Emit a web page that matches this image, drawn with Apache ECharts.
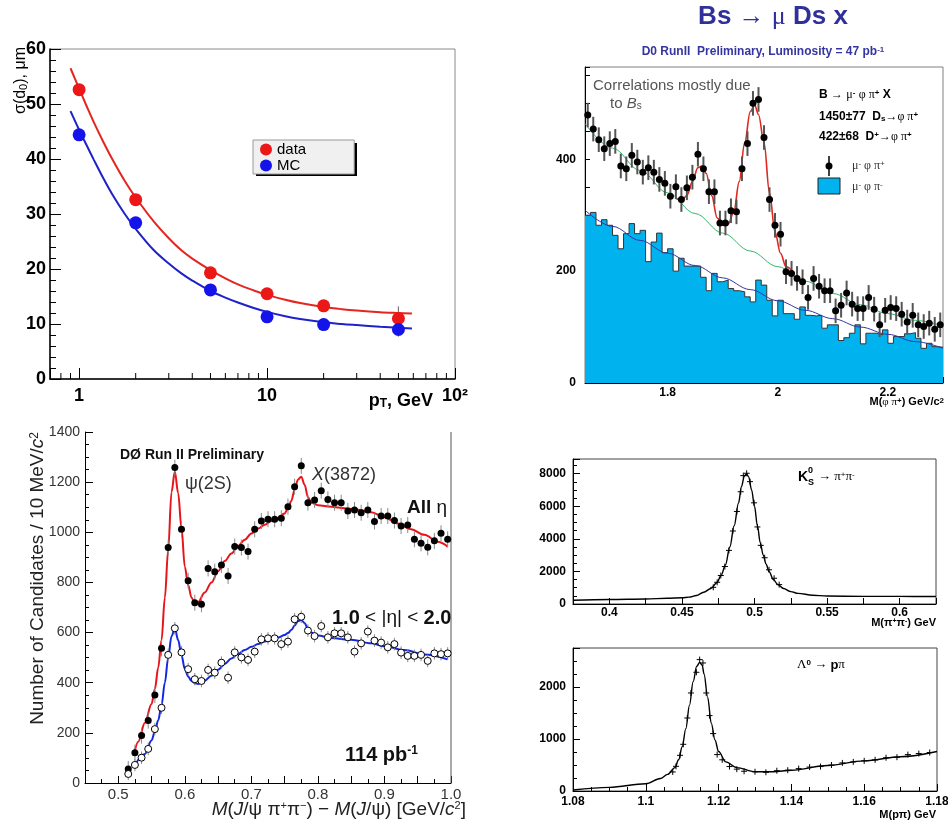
<!DOCTYPE html>
<html><head><meta charset="utf-8">
<script src="https://cdn.jsdelivr.net/npm/echarts@6/dist/echarts.min.js"></script>
<style>html,body{margin:0;padding:0;background:#fff}#c{width:948px;height:829px}</style>
</head><body><div id="c"></div>
<script>
// ===== Panel 1: sigma(d0) vs pT =====
const P1_X = [1, 2, 5, 10, 20, 50];
const P1_DATA = [52.6, 32.6, 19.3, 15.5, 13.3, 11.0];
const P1_MC = [44.4, 28.4, 16.2, 11.3, 9.9, 9.0];
const P1_DATA_ERR = [0, 0, 0, 0, 0, 2.2];
const P1_MC_ERR = [0, 0, 0, 0, 0, 1.3];
const P1_FIT_X = [0.9, 1, 1.1, 1.2, 1.35, 1.5, 1.75, 2, 2.5, 3, 3.5, 4, 5, 6, 7, 8.5, 10, 12.5, 15, 20, 25, 30, 40, 50, 59];
const P1_FIT_DATA = [56.5, 52.8, 49.5, 46.6, 43.0, 40.0, 36.0, 33.0, 28.6, 25.6, 23.4, 21.9, 19.8, 18.3, 17.2, 16.1, 15.3, 14.4, 13.8, 13.1, 12.7, 12.45, 12.15, 12.0, 11.9];
const P1_FIT_MC = [48.7, 45.3, 42.4, 39.8, 36.4, 33.6, 30.0, 27.3, 23.4, 21.0, 19.2, 17.9, 16.0, 14.8, 13.9, 12.9, 12.2, 11.4, 10.9, 10.3, 10.0, 9.8, 9.5, 9.3, 9.2];
const P1_MINOR_TICKS = [0.8, 0.9, 2, 3, 4, 5, 6, 7, 8, 9, 20, 30, 40, 50, 60, 70, 80, 90];

// ===== Panel 2: Bs -> mu Ds X =====
const P2_HIST = [300, 305, 282, 292, 282, 264, 240, 267, 285, 267, 273, 217, 252, 268, 233, 240, 200, 223, 209, 209, 209, 189, 165, 196, 181, 184, 169, 165, 163, 154, 145, 184, 175, 148, 120, 148, 124, 124, 114, 136, 121, 120, 121, 98, 104, 104, 76, 81, 89, 104, 70, 89, 89, 86, 95, 71, 83, 83, 88, 90, 80, 62, 71, 65, 64];
const P2_PTS = [479, 454, 435, 419, 428, 432, 388, 383, 407, 395, 377, 385, 377, 364, 357, 334, 351, 328, 349, 368, 409, 383, 342, 342, 286, 286, 308, 306, 383, 428, 500, 507, 439, 328, 282, 266, 199, 196, 187, 181, 153, 187, 173, 165, 165, 129, 139, 161, 141, 133, 133, 153, 132, 104, 130, 135, 133, 123, 109, 121, 104, 101, 107, 96, 104];
const P2_BIN_START = 1.65, P2_BIN_W = 0.01, P2_PT_ERR = 22;
const P2_BLUE_X = [1.65, 1.7, 1.75, 1.8, 1.85, 1.9, 1.95, 2.0, 2.05, 2.1, 2.15, 2.2, 2.25, 2.30];
const P2_BLUE_Y = [309, 280, 255, 232, 210, 188, 167, 147, 130, 115, 100, 87, 74, 62];
const P2_GREEN_X = [1.65, 1.7, 1.75, 1.8, 1.85, 1.9, 1.95, 2.0, 2.05, 2.1, 2.15, 2.2, 2.25, 2.30];
const P2_GREEN_Y = [464, 420, 380, 340, 303, 268, 236, 208, 182, 160, 140, 124, 112, 102];
const P2_FIT_X = [1.815, 1.825, 1.835, 1.845, 1.855, 1.862, 1.87, 1.88, 1.89, 1.9, 1.91, 1.92, 1.93, 1.94, 1.95, 1.958, 1.965, 1.975, 1.985, 1.995, 2.005, 2.015, 2.03];
const P2_FIT_Y = [330, 326, 335, 360, 385, 388, 375, 335, 295, 282, 284, 305, 360, 430, 485, 497, 480, 430, 340, 270, 232, 208, 196];

// ===== Panel 3: X(3872) =====
const P3_START = 0.515, P3_BIN_W = 0.01;
const P3_ALL = [56, 121, 189, 249, 351, 537, 939, 1258, 1012, 807, 719, 713, 856, 843, 870, 826, 943, 939, 923, 1012, 1045, 1052, 1052, 1056, 1102, 1182, 1265, 1118, 1129, 1166, 1131, 1118, 1118, 1085, 1089, 1078, 1089, 1043, 1065, 1065, 1047, 1025, 1029, 972, 956, 940, 966, 996, 972];
const P3_FWD = [36, 72, 101, 136, 215, 300, 511, 617, 521, 454, 414, 407, 451, 440, 480, 420, 521, 501, 491, 524, 573, 577, 577, 554, 564, 653, 663, 608, 586, 626, 581, 597, 597, 581, 524, 557, 604, 568, 560, 541, 554, 520, 507, 507, 511, 487, 517, 514, 517];
const P3_ALL_ERR = 32, P3_FWD_ERR = 25;
const P3_FIT_ALL_X = [0.524, 0.53, 0.54, 0.55, 0.555, 0.56, 0.565, 0.57, 0.575, 0.58, 0.585, 0.59, 0.595, 0.6, 0.605, 0.61, 0.615, 0.62, 0.63, 0.64, 0.65, 0.66, 0.67, 0.68, 0.69, 0.7, 0.71, 0.72, 0.73, 0.74, 0.75, 0.755, 0.76, 0.765, 0.77, 0.775, 0.78, 0.785, 0.79, 0.8, 0.82, 0.84, 0.86, 0.88, 0.9, 0.92, 0.94, 0.96, 0.98, 0.995];
const P3_FIT_ALL_Y = [118, 165, 240, 315, 375, 460, 570, 740, 930, 1160, 1242, 1156, 1016, 863, 790, 740, 716, 722, 760, 800, 845, 885, 915, 945, 970, 995, 1015, 1030, 1045, 1058, 1075, 1095, 1125, 1170, 1210, 1222, 1190, 1140, 1118, 1108, 1102, 1096, 1090, 1080, 1060, 1035, 1012, 990, 962, 943];
const P3_FIT_FWD_X = [0.525, 0.54, 0.55, 0.555, 0.56, 0.565, 0.57, 0.575, 0.58, 0.585, 0.59, 0.595, 0.6, 0.605, 0.61, 0.615, 0.62, 0.63, 0.64, 0.65, 0.66, 0.67, 0.68, 0.69, 0.7, 0.71, 0.72, 0.73, 0.74, 0.75, 0.755, 0.76, 0.765, 0.77, 0.775, 0.78, 0.785, 0.79, 0.8, 0.82, 0.85, 0.88, 0.9, 0.93, 0.96, 0.995];
const P3_FIT_FWD_Y = [72, 116, 170, 205, 250, 310, 400, 500, 585, 617, 570, 510, 455, 425, 407, 398, 395, 408, 428, 452, 475, 497, 515, 530, 543, 554, 564, 572, 580, 590, 598, 610, 628, 645, 650, 638, 615, 600, 588, 578, 571, 557, 545, 530, 513, 493];

// ===== Panel 4: K0s =====
const P4_FIT_X = [0.375, 0.4, 0.425, 0.44, 0.45, 0.455, 0.46, 0.465, 0.47, 0.474, 0.477, 0.48, 0.483, 0.486, 0.489, 0.491, 0.493, 0.4945, 0.496, 0.498, 0.5, 0.502, 0.504, 0.506, 0.508, 0.51, 0.513, 0.516, 0.52, 0.525, 0.53, 0.54, 0.55, 0.575, 0.6, 0.625];
const P4_FIT_Y = [230, 280, 310, 350, 380, 420, 520, 720, 950, 1300, 1750, 2400, 3500, 4800, 6200, 7200, 7850, 8000, 7800, 7000, 6000, 4800, 3750, 3000, 2450, 2000, 1500, 1200, 950, 760, 650, 540, 490, 470, 465, 460];
const P4_PX = [0.4716, 0.4743, 0.4768, 0.4796, 0.4824, 0.4851, 0.4879, 0.4905, 0.4923, 0.4946, 0.4969, 0.4997, 0.502, 0.5043, 0.507, 0.51, 0.5135, 0.517];
const P4_PY = [1025, 1335, 1747, 2300, 3290, 4480, 5680, 6890, 7880, 8025, 7510, 6210, 4730, 3600, 2840, 2100, 1580, 1190];

// ===== Panel 5: Lambda0 =====
const P5_FIT_X = [1.08, 1.09, 1.1, 1.104, 1.106, 1.108, 1.109, 1.11, 1.111, 1.112, 1.113, 1.114, 1.1148, 1.1155, 1.116, 1.117, 1.118, 1.119, 1.12, 1.122, 1.125, 1.13, 1.135, 1.14, 1.15, 1.16, 1.17, 1.18];
const P5_FIT_Y = [20, 70, 140, 240, 320, 450, 600, 850, 1200, 1650, 2100, 2400, 2470, 2420, 2250, 1800, 1300, 980, 760, 560, 450, 370, 370, 400, 490, 580, 660, 760];
const P5_PX = [1.1074, 1.1083, 1.1094, 1.1103, 1.1114, 1.1124, 1.1139, 1.1148, 1.1157, 1.1166, 1.1175, 1.1185, 1.1196, 1.121, 1.123, 1.125, 1.127, 1.13, 1.133, 1.136, 1.139, 1.142, 1.145, 1.148, 1.151, 1.154, 1.157, 1.16, 1.163, 1.166, 1.169, 1.172, 1.175, 1.178];
const P5_PY = [366, 475, 686, 898, 1404, 1885, 2283, 2527, 2462, 1885, 1450, 1104, 700, 600, 470, 420, 380, 370, 360, 390, 400, 430, 460, 470, 500, 540, 560, 580, 600, 640, 650, 700, 720, 740];

// ===== helpers =====
const SANS = '"Liberation Sans", Arial, Helvetica, sans-serif';
const SERIF = '"Liberation Serif", "Times New Roman", serif';
const pairs = (xs, ys) => xs.map((x, i) => [x, ys[i]]);
const labelAt = (vals, fmt) => v => { for (const t of vals) if (Math.abs(v - t) < 1e-7) return fmt ? fmt(t) : String(t); return ''; };
function errBars(xi, yi, xs, ys, err, color, width) {
  return { type: 'custom', xAxisIndex: xi, yAxisIndex: yi, silent: true, z: 3,
    data: xs.map((x, i) => { const e = Array.isArray(err) ? err[i] : err; return [x, ys[i] - e, ys[i] + e]; }),
    encode: { x: 0, y: [1, 2] },
    renderItem: (p, api) => {
      const a = api.coord([api.value(0), api.value(1)]), b = api.coord([api.value(0), api.value(2)]);
      return { type: 'line', shape: { x1: a[0], y1: a[1], x2: b[0], y2: b[1] }, style: { stroke: color, lineWidth: width } };
    } };
}
function plusMarks(xi, yi, xs, ys, s) {
  return { type: 'custom', xAxisIndex: xi, yAxisIndex: yi, silent: true, z: 4,
    data: pairs(xs, ys),
    renderItem: (p, api) => {
      const c = api.coord([api.value(0), api.value(1)]);
      return { type: 'group', children: [
        { type: 'line', shape: { x1: c[0] - s, y1: c[1], x2: c[0] + s, y2: c[1] }, style: { stroke: '#000', lineWidth: 1 } },
        { type: 'line', shape: { x1: c[0], y1: c[1] - s, x2: c[0], y2: c[1] + s }, style: { stroke: '#000', lineWidth: 1 } }] };
    } };
}
function fitLine(xi, yi, xs, ys, color, w, mono) {
  const s = { type: 'line', xAxisIndex: xi, yAxisIndex: yi, data: pairs(xs, ys), smooth: 0.35,
    showSymbol: false, silent: true, lineStyle: { color: color, width: w }, z: 2 };
  if (mono !== false) s.smoothMonotone = 'x';
  return s;
}
function txt(x, y, text, o) {
  o = o || {};
  return { type: 'text', x: x, y: y, rotation: o.rot || 0, z: 50,
    style: { text: text, fill: o.fill || '#000',
      font: (o.style || 'normal') + ' ' + (o.weight || 'normal') + ' ' + (o.size || 12) + 'px ' + (o.family || SANS),
      align: o.align || 'left', verticalAlign: o.va || 'middle', textAlign: o.align || 'left', textVerticalAlign: o.va || 'middle',
      rich: o.rich || {} } };
}
const axLine = { show: true, lineStyle: { color: '#000', width: 1 } };
const noSplit = { show: false };
const plain = v => String(v);

const gridBase = { containLabel: false, outerBoundsMode: 'none', backgroundColor: 'transparent' };

const option = {
  animation: false,
  backgroundColor: '#fff',
  textStyle: { fontFamily: SANS },
  grid: [
    Object.assign({ left: 50, top: 49, width: 405, height: 330, show: true, borderColor: '#8a8a8a', borderWidth: 1 }, gridBase),
    Object.assign({ left: 585, top: 67, width: 358, height: 316, show: true, borderColor: '#808080', borderWidth: 1 }, gridBase),
    Object.assign({ left: 85, top: 432, width: 366, height: 351, show: false }, gridBase),
    Object.assign({ left: 573, top: 459, width: 363, height: 145, show: true, borderColor: '#444', borderWidth: 1 }, gridBase),
    Object.assign({ left: 573, top: 648, width: 364, height: 143, show: true, borderColor: '#444', borderWidth: 1 }, gridBase)
  ],
  legend: {
    data: ['data', 'MC'], left: 253, top: 140, orient: 'vertical', selectedMode: false,
    backgroundColor: '#f0f0f0', borderColor: '#999', borderWidth: 1, borderRadius: 0,
    padding: [2, 48, 1, 7], itemGap: 1, itemWidth: 12, itemHeight: 12, icon: 'circle', z: 10,
    textStyle: { fontSize: 15, fontFamily: SANS, color: '#000', lineHeight: 15 }
  },
  xAxis: [
    { type: 'log', logBase: 10, gridIndex: 0, min: 0.7, max: 100, axisLine: { show: true, lineStyle: { color: '#000', width: 1.5 } },
      axisTick: { inside: true, length: 11, lineStyle: { color: '#000' } }, splitLine: noSplit,
      axisLabel: { margin: 8, fontSize: 18, fontWeight: 'bold', color: '#000',
        formatter: v => { const l = Math.log10(v); if (Math.abs(l) < 1e-6) return '1'; if (Math.abs(l - 1) < 1e-6) return '10'; if (Math.abs(l - 2) < 1e-6) return '10²'; return ''; } } },
    { type: 'value', gridIndex: 1, min: 1.65, max: 2.30, interval: 0.05, axisLine: axLine, splitLine: noSplit,
      axisTick: { inside: true, length: 6, lineStyle: { color: '#000' } },
      axisLabel: { margin: 4, fontSize: 12, fontWeight: 'bold', color: '#000', formatter: labelAt([1.8, 2, 2.2]) } },
    { type: 'value', gridIndex: 2, min: 0.45, max: 1.0, interval: 0.05, axisLine: axLine, splitLine: noSplit,
      axisTick: { inside: true, length: 7, lineStyle: { color: '#000' } },
      minorTick: { show: true, splitNumber: 2, length: 4, lineStyle: { color: '#000' } },
      axisLabel: { margin: 4, fontSize: 15, color: '#333', formatter: labelAt([0.5, 0.6, 0.7, 0.8, 0.9, 1.0], t => t.toFixed(1)) } },
    { type: 'value', gridIndex: 3, min: 0.375, max: 0.625, interval: 0.025, axisLine: axLine, splitLine: noSplit,
      axisTick: { inside: true, length: 6, lineStyle: { color: '#000' } },
      axisLabel: { margin: 3, fontSize: 12, fontWeight: 'bold', color: '#000', formatter: labelAt([0.4, 0.45, 0.5, 0.55, 0.6]) } },
    { type: 'value', gridIndex: 4, min: 1.08, max: 1.18, interval: 0.02, axisLine: axLine, splitLine: noSplit,
      axisTick: { inside: true, length: 7, lineStyle: { color: '#000' } },
      minorTick: { show: true, splitNumber: 4, length: 4, lineStyle: { color: '#000' } },
      axisLabel: { margin: 5, fontSize: 12, fontWeight: 'bold', color: '#000', formatter: labelAt([1.08, 1.1, 1.12, 1.14, 1.16, 1.18]) } }
  ],
  yAxis: [
    { type: 'value', gridIndex: 0, min: 0, max: 60, interval: 10, axisLine: { show: true, lineStyle: { color: '#000', width: 1.5 } }, splitLine: noSplit,
      axisTick: { inside: true, length: 11, lineStyle: { color: '#000' } },
      minorTick: { show: true, splitNumber: 5, length: 6, lineStyle: { color: '#000' } },
      axisLabel: { margin: 4, fontSize: 18, fontWeight: 'bold', color: '#000', formatter: plain } },
    { type: 'value', gridIndex: 1, min: 0, max: 565, interval: 50, axisLine: axLine, splitLine: noSplit,
      axisTick: { inside: true, length: 5, lineStyle: { color: '#000' } },
      axisLabel: { margin: 9, fontSize: 12, fontWeight: 'bold', color: '#000', formatter: labelAt([0, 200, 400]) } },
    { type: 'value', gridIndex: 2, min: 0, max: 1400, interval: 200, axisLine: axLine, splitLine: noSplit,
      axisTick: { inside: true, length: 8, lineStyle: { color: '#000' } },
      minorTick: { show: true, splitNumber: 4, length: 4, lineStyle: { color: '#000' } },
      axisLabel: { margin: 5, fontSize: 14, color: '#333', formatter: plain } },
    { type: 'value', gridIndex: 3, min: 0, max: 8900, interval: 2000, axisLine: axLine, splitLine: noSplit,
      axisTick: { inside: true, length: 7, lineStyle: { color: '#000' } },
      minorTick: { show: true, splitNumber: 4, length: 4, lineStyle: { color: '#000' } },
      axisLabel: { margin: 7, fontSize: 12, fontWeight: 'bold', color: '#000', formatter: labelAt([0, 2000, 4000, 6000, 8000]) } },
    { type: 'value', gridIndex: 4, min: 0, max: 2750, interval: 1000, axisLine: axLine, splitLine: noSplit,
      axisTick: { inside: true, length: 7, lineStyle: { color: '#000' } },
      minorTick: { show: true, splitNumber: 4, length: 4, lineStyle: { color: '#000' } },
      axisLabel: { margin: 7, fontSize: 12, fontWeight: 'bold', color: '#000', formatter: labelAt([0, 1000, 2000]) } }
  ],
  series: [],
  graphic: []
};

const S = option.series;
// Panel 1
S.push(fitLine(0, 0, P1_FIT_X, P1_FIT_DATA, '#e3261f', 2, false));
S.push(fitLine(0, 0, P1_FIT_X, P1_FIT_MC, '#1e22c8', 2, false));
S.push(errBars(0, 0, P1_X, P1_DATA, P1_DATA_ERR, '#777', 1.2));
S.push(errBars(0, 0, P1_X, P1_MC, P1_MC_ERR, '#777', 1.2));
S.push({ type: 'scatter', name: 'data', xAxisIndex: 0, yAxisIndex: 0, data: pairs(P1_X, P1_DATA), symbolSize: 13, itemStyle: { color: '#ec1818', opacity: 1 }, z: 5 });
S.push({ type: 'scatter', name: 'MC', xAxisIndex: 0, yAxisIndex: 0, data: pairs(P1_X, P1_MC), symbolSize: 13, itemStyle: { color: '#1414ea', opacity: 1 }, z: 5 });
S.push({ type: 'custom', xAxisIndex: 0, yAxisIndex: 0, silent: true, z: 6, data: P1_MINOR_TICKS.map(v => [v, 0]),
  renderItem: (p, api) => { const c = api.coord([api.value(0), 0]); return { type: 'line', shape: { x1: c[0], y1: c[1], x2: c[0], y2: c[1] - 6 }, style: { stroke: '#000', lineWidth: 1 } }; } });

// Panel 2
const histData = P2_HIST.map((v, i) => [+(P2_BIN_START + i * P2_BIN_W).toFixed(3), v]);
histData.push([+(P2_BIN_START + P2_HIST.length * P2_BIN_W).toFixed(3), P2_HIST[P2_HIST.length - 1]]);
S.push({ type: 'line', xAxisIndex: 1, yAxisIndex: 1, data: histData, step: 'end', showSymbol: false, silent: true,
  lineStyle: { color: '#333', width: 1 }, areaStyle: { color: '#00b3ee', opacity: 1 }, z: 1 });
S.push(fitLine(1, 1, P2_BLUE_X, P2_BLUE_Y, '#3535a5', 1));
S.push(fitLine(1, 1, P2_GREEN_X, P2_GREEN_Y, '#33b86a', 1));
S.push(fitLine(1, 1, P2_FIT_X, P2_FIT_Y, '#e0281e', 1.6));
const p2x = P2_PTS.map((v, i) => +(P2_BIN_START + P2_BIN_W / 2 + i * P2_BIN_W).toFixed(4));
S.push(errBars(1, 1, p2x, P2_PTS, P2_PT_ERR, '#555', 2));
S.push({ type: 'scatter', name: 'p2pts', xAxisIndex: 1, yAxisIndex: 1, data: pairs(p2x, P2_PTS), symbolSize: 7, itemStyle: { color: '#000', opacity: 1 }, z: 5, silent: true });

// Panel 3
const p3xa = P3_ALL.map((v, i) => +(P3_START + i * P3_BIN_W).toFixed(4));
const p3xf = P3_FWD.map((v, i) => +(P3_START + i * P3_BIN_W).toFixed(4));
S.push(errBars(2, 2, p3xa, P3_ALL, P3_ALL_ERR, '#8a8a8a', 1));
S.push(errBars(2, 2, p3xf, P3_FWD, P3_FWD_ERR, '#8a8a8a', 1));
S.push(fitLine(2, 2, P3_FIT_ALL_X, P3_FIT_ALL_Y, '#e8141a', 2));
S.push(fitLine(2, 2, P3_FIT_FWD_X, P3_FIT_FWD_Y, '#1428e0', 2));
S.push({ type: 'scatter', name: 'p3all', xAxisIndex: 2, yAxisIndex: 2, data: pairs(p3xa, P3_ALL), symbolSize: 7, itemStyle: { color: '#000', opacity: 1 }, z: 5, silent: true });
S.push({ type: 'scatter', name: 'p3fwd', xAxisIndex: 2, yAxisIndex: 2, data: pairs(p3xf, P3_FWD), symbolSize: 7, itemStyle: { color: '#fff', borderColor: '#000', borderWidth: 1, opacity: 1 }, z: 5, silent: true });

// Panel 4
S.push(fitLine(3, 3, P4_FIT_X, P4_FIT_Y, '#000', 1.4));
S.push(plusMarks(3, 3, P4_PX, P4_PY, 3));
// Panel 5
S.push(fitLine(4, 4, P5_FIT_X, P5_FIT_Y, '#000', 1.4));
S.push(plusMarks(4, 4, P5_PX, P5_PY, 3));

// ===== texts & decorations =====
const G = option.graphic;
const sub = (size, fam, w) => ({ fontSize: size, fontFamily: fam || SANS, fontWeight: w || 'normal', verticalAlign: 'bottom' });
const sup = (size, fam, w) => ({ fontSize: size, fontFamily: fam || SANS, fontWeight: w || 'normal', verticalAlign: 'top' });
// legend shadow panel 1
G.push({ type: 'rect', shape: { x: 256, y: 143, width: 101, height: 33 }, style: { fill: '#000' }, z: 1 });
// panel 1 axis names
G.push(txt(21, 47, 'σ(d{s|0}), μm', { size: 16, align: 'right', rot: Math.PI / 2, rich: { s: sub(11) } }));
G.push(txt(433, 401, 'p{s|T}, GeV', { size: 18, weight: 'bold', align: 'right', rich: { s: sub(12, SANS, 'bold') } }));

// panel 2
G.push(txt(773, 17, 'Bs {n|→} {n|μ} Ds x', { size: 26, weight: 'bold', fill: '#30309a', align: 'center',
  rich: { n: { fontSize: 26, fontWeight: 'normal', fontFamily: SERIF, fill: '#30309a' } } }));
G.push(txt(763, 52, 'D0 RunII  Preliminary, Luminosity = 47 pb{s|-1}', { size: 12, weight: 'bold', fill: '#3535a0', align: 'center',
  rich: { s: Object.assign(sup(8, SANS, 'bold'), { fill: '#3535a0' }) } }));
G.push(txt(593, 86, 'Correlations mostly due', { size: 15, fill: '#555' }));
G.push(txt(610, 104, 'to {i|B}{s|s}', { size: 15, fill: '#555',
  rich: { i: { fontSize: 15, fontStyle: 'italic', fontFamily: SANS, fill: '#555' }, s: Object.assign(sub(10), { fill: '#555' }) } }));
const gk = { fontSize: 12, fontFamily: SERIF, fontWeight: 'normal' };
G.push(txt(819, 95, 'B → {g|μ}{s|-} {g|φ π}{s|+} X', { size: 12, weight: 'bold', rich: { g: gk, s: sup(8, SANS, 'bold') } }));
G.push(txt(819, 117, '1450±77  D{b|s}→{g|φ π}{s|+}', { size: 12, weight: 'bold', rich: { g: gk, s: sup(8, SANS, 'bold'), b: sub(8, SANS, 'bold') } }));
G.push(txt(819, 137, '422±68  D{s|+}→{g|φ π}{s|+}', { size: 12, weight: 'bold', rich: { g: gk, s: sup(8, SANS, 'bold') } }));
G.push({ type: 'line', shape: { x1: 829, y1: 156, x2: 829, y2: 176 }, style: { stroke: '#000', lineWidth: 1.5 }, z: 50 });
G.push({ type: 'circle', shape: { cx: 829, cy: 166, r: 3.5 }, style: { fill: '#000' }, z: 50 });
G.push({ type: 'rect', shape: { x: 818, y: 178, width: 22, height: 16 }, style: { fill: '#00b3ee', stroke: '#222', lineWidth: 1 }, z: 50 });
G.push(txt(852, 166, 'μ{s|-} φ π{s|+}', { size: 12, family: SERIF, fill: '#333', rich: { s: sup(8, SANS) } }));
G.push(txt(852, 187, 'μ{s|-} φ π{s|-}', { size: 12, family: SERIF, fill: '#333', rich: { s: sup(8, SANS) } }));
G.push(txt(944, 402, 'M({g|φ π}{s|+}) GeV/c{s|2}', { size: 11, weight: 'bold', align: 'right', rich: { g: { fontSize: 11, fontFamily: SERIF }, s: sup(8, SANS, 'bold') } }));

// panel 3
G.push(txt(38, 432, 'Number of Candidates / 10 MeV/{i|c}{s|2}', { size: 19, fill: '#222', align: 'right', rot: Math.PI / 2,
  rich: { i: { fontSize: 19, fontStyle: 'italic', fontFamily: SANS, fill: '#222' }, s: Object.assign(sup(12), { fill: '#222' }) } }));
G.push(txt(466, 810, '{i|M}({i|J}/ψ π{s|+}π{s|−}) − {i|M}({i|J}/ψ) [GeV/{i|c}{s|2}]', { size: 19, fill: '#222', align: 'right',
  rich: { i: { fontSize: 19, fontStyle: 'italic', fontFamily: SANS, fill: '#222' }, s: Object.assign(sup(11), { fill: '#222' }) } }));
G.push(txt(120, 455, 'DØ Run II Preliminary', { size: 14, weight: 'bold', fill: '#111' }));
G.push(txt(185, 484, 'ψ(2S)', { size: 18, fill: '#333' }));
G.push(txt(312, 475, '{i|X}(3872)', { size: 18, fill: '#333', rich: { i: { fontSize: 18, fontStyle: 'italic', fontFamily: SANS, fill: '#333' } } }));
G.push(txt(407, 508, '{b|All} η', { size: 19, fill: '#111', rich: { b: { fontSize: 19, fontWeight: 'bold', fontFamily: SANS, fill: '#111' } } }));
G.push(txt(332, 618, '{b|1.0} < |η| < {b|2.0}', { size: 19, fill: '#111', rich: { b: { fontSize: 20, fontWeight: 'bold', fontFamily: SANS, fill: '#111' } } }));
G.push(txt(345, 755, '114 pb{s|-1}', { size: 20, weight: 'bold', fill: '#111', rich: { s: Object.assign(sup(12, SANS, 'bold'), { fill: '#111' }) } }));

// panel 4
G.push(txt(798, 477, 'K', { size: 14, weight: 'bold' }));
G.push(txt(808, 471, '0', { size: 9, weight: 'bold' }));
G.push(txt(808, 483, 'S', { size: 9, weight: 'bold' }));
G.push(txt(818, 477, '→ π{s|+}π{s|-}', { size: 13, family: SERIF, rich: { s: sup(8, SANS) } }));
G.push(txt(936, 623, 'M(π{s|+}π{s|-}) GeV', { size: 11, weight: 'bold', align: 'right', rich: { s: sup(7, SANS, 'bold') } }));
// panel 5
G.push(txt(797, 665, 'Λ{s|0} → {b|p}π', { size: 13, family: SERIF, rich: { s: sup(8, SANS, 'bold'), b: { fontSize: 13, fontWeight: 'bold', fontFamily: SANS } } }));
G.push(txt(936, 815, 'M(pπ) GeV', { size: 11, weight: 'bold', align: 'right' }));
// panel 3 right border
G.push({ type: 'line', shape: { x1: 451, y1: 432, x2: 451, y2: 783 }, style: { stroke: '#555', lineWidth: 1 }, z: 1 });

const chart = echarts.init(document.getElementById('c'), null, { renderer: 'canvas', width: 948, height: 829 });
chart.setOption(option);
</script>
</body></html>
